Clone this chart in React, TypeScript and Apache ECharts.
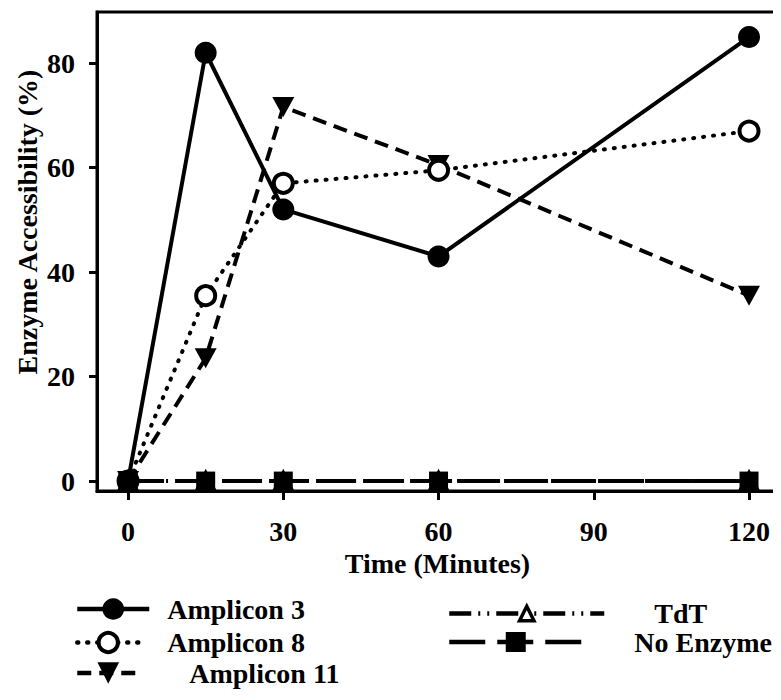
import React, { useEffect, useRef } from "react";
import * as echarts from "echarts";

const timePoints = [0, 15, 30, 60, 120];
const amplicon3 = [0, 82, 52, 43, 85];
const amplicon8 = [0, 35.5, 57, 59.5, 67];
const amplicon11 = [0, 23.5, 71.6, 60.5, 35.5];
const tdt = [0, 0, 0, 0, 0];
const noEnzyme = [0, 0, 0, 0, 0];
const xTickValues = [0, 30, 60, 90, 120];
const yTickValues = [0, 20, 40, 60, 80];

const FONT = "Liberation Serif";

const pairs = (vals: number[]) => timePoints.map((t, i) => [t, vals[i]]);

export default function App() {
  const ref = useRef<HTMLDivElement>(null);
  useEffect(() => {
    if (!ref.current) return;
    const chart = echarts.init(ref.current, undefined, { renderer: "svg" });
    const txt = { color: "#000", fontFamily: FONT, fontWeight: "bold" as const, fontSize: 28 };
    const mkLegend = (
      name: string,
      left: number,
      centerY: number,
      w: number,
      pad: number,
      h: number,
      border?: number
    ) => ({
      show: true,
      orient: "vertical",
      left,
      top: centerY - h / 2,
      padding: 0,
      itemWidth: w,
      itemHeight: h,
      selectedMode: false,
      lineStyle: { width: 4.5 },
      ...(border ? { itemStyle: { borderWidth: border, borderColor: "#000", color: "#fff" } } : {}),
      data: [{ name, textStyle: { ...txt, padding: [0, 0, 0, pad] } }],
      textStyle: txt,
    });
    const option: any = {
      animation: false,
      backgroundColor: "#fff",
      grid: {
        left: 97,
        right: 3,
        top: 12,
        bottom: 209,
        show: true,
        borderColor: "#000",
        borderWidth: 3,
      },
      legend: [
        mkLegend("Amplicon 3", 75, 608.5, 72, 13, 27),
        mkLegend("Amplicon 8", 75, 640.5, 62, 23, 24, 4),
        mkLegend("Amplicon 11", 75, 672.5, 62, 45, 27),
        mkLegend("TdT", 447, 608.5, 155, 45, 18, 3.5),
        mkLegend("No Enzyme", 447, 640.5, 133, 47, 25),
      ],
      xAxis: {
        type: "value",
        min: -6,
        max: 125.6,
        name: "Time (Minutes)",
        nameLocation: "middle",
        nameGap: 52,
        nameTextStyle: { ...txt, fontSize: 28 },
        splitLine: { show: false },
        axisLine: { show: true, onZero: false, lineStyle: { color: "#000", width: 3 } },
        axisTick: { show: true, length: 9, customValues: xTickValues, lineStyle: { color: "#000", width: 3 } },
        axisLabel: { ...txt, margin: 26, customValues: xTickValues },
      },
      yAxis: {
        type: "value",
        min: -1.9,
        max: 89.8,
        splitLine: { show: false },
        axisLine: { show: true, onZero: false, lineStyle: { color: "#000", width: 3 } },
        axisTick: { show: true, length: 8, customValues: yTickValues, lineStyle: { color: "#000", width: 3 } },
        axisLabel: { ...txt, margin: 22, customValues: yTickValues },
      },
      graphic: [
        {
          type: "text",
          x: 27,
          y: 222,
          rotation: Math.PI / 2,
          style: {
            text: "Enzyme Accessibility (%)",
            fill: "#000",
            fontSize: 28,
            fontWeight: "bold",
            fontFamily: FONT,
            textAlign: "center",
            textVerticalAlign: "middle",
          },
        },
      ],
      series: [
        {
          name: "Amplicon 3",
          type: "line",
          data: pairs(amplicon3),
          symbol: "circle",
          symbolSize: 22,
          itemStyle: { color: "#000" },
          lineStyle: { color: "#000", width: 4, type: "solid" },
          z: 5,
        },
        {
          name: "Amplicon 8",
          type: "line",
          data: pairs(amplicon8),
          symbol: "circle",
          symbolSize: 19,
          itemStyle: { color: "#fff", borderColor: "#000", borderWidth: 4 },
          lineStyle: { color: "#000", width: 4, type: [1, 9], cap: "round" },
          z: 4,
        },
        {
          name: "Amplicon 11",
          type: "line",
          data: pairs(amplicon11),
          symbol: "triangle",
          symbolRotate: 180,
          symbolSize: [22, 20],
          itemStyle: { color: "#000" },
          lineStyle: { color: "#000", width: 4, type: [14, 8] },
          z: 3,
        },
        {
          name: "TdT",
          type: "line",
          data: pairs(tdt),
          symbol: "triangle",
          symbolSize: 17,
          itemStyle: { color: "#fff", borderColor: "#000", borderWidth: 3.5 },
          lineStyle: { color: "#000", width: 4, type: [22, 7, 2, 7, 2, 7] },
          z: 2,
        },
        {
          name: "No Enzyme",
          type: "line",
          data: pairs(noEnzyme),
          symbol: "rect",
          symbolSize: 19,
          itemStyle: { color: "#000" },
          lineStyle: { color: "#000", width: 4, type: [36, 12] },
          z: 6,
        },
      ],
    };
    chart.setOption(option);
    return () => chart.dispose();
  }, []);
  return <div ref={ref} style={{ width: 781, height: 700, margin: -8 }} />;
}
